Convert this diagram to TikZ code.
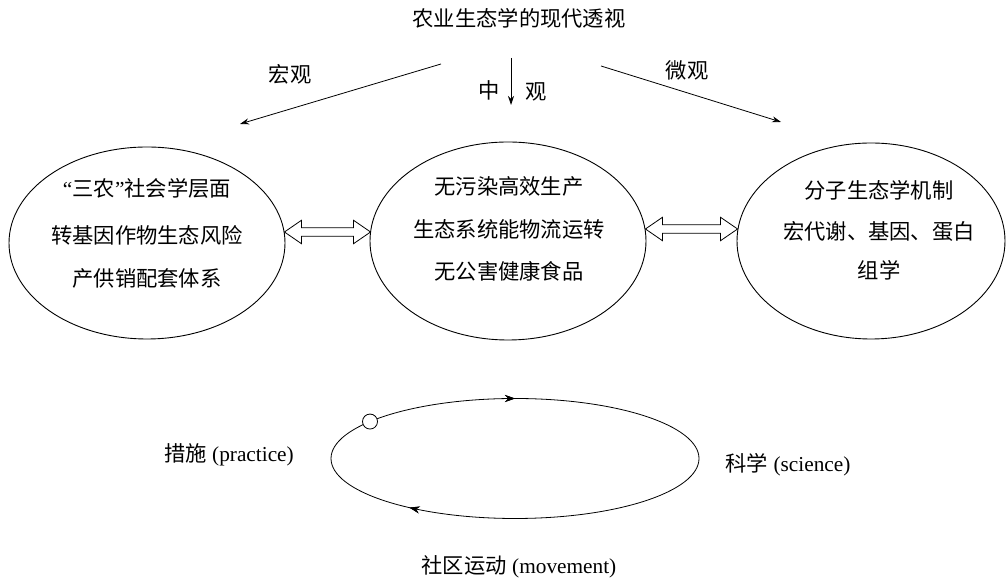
\documentclass[tikz,border=0pt]{standalone}
\usepackage{fontspec}
\setmainfont{Liberation Serif}
\newfontfamily\cjk{Noto Sans CJK SC}
\usetikzlibrary{shapes.geometric,arrows.meta,decorations.markings,calc}
\begin{document}
\begin{tikzpicture}[x=1pt,y=1pt,
  line width=0.8pt,
  txt/.style={font=\fontsize{21.3}{24}\selectfont\cjk, inner sep=0pt},
  lat/.style={font=\fontsize{21.3}{24}\selectfont, inner sep=0pt},
  bubble/.style={ellipse, draw, line width=0.9pt, inner sep=0pt},
  flow/.style={-{Stealth[length=9pt,width=6pt]}},
  cyclemark/.style={decoration={markings,
    mark=at position #1 with {\arrowreversed{Stealth[length=10pt,width=7pt]}}},
    postaction=decorate}
]
\useasboundingbox (0,0) rectangle (1007,580);

% hollow two-headed arrow between two points
\newcommand\twohead[2]{%
  \draw[line width=0.8pt, line join=miter]
    (#1) -- ++(17,11.7) -- ++(0,-7.4) -- ($(#2)+(-17,4.3)$) -- ++(0,7.4)
    -- (#2) -- ++(-17,-11.7) -- ++(0,7.4) -- ($(#1)+(17,-4.3)$) -- ++(0,-7.4) -- cycle;}

% title and the three viewing scales
\node[txt] (title) at (519,562) {农业生态学的现代透视};
\coordinate (sL) at (441,516);
\coordinate (sM) at (511,522);
\coordinate (sR) at (601,514);
\coordinate (eL) at (240,456);
\coordinate (eM) at (511,475);
\coordinate (eR) at (781,458);
\draw[flow] (sL) -- (eL);
\draw[flow] (sM) -- (eM);
\draw[flow] (sR) -- (eR);
\node[txt] (macro) at (290,506) {宏观};
\node[txt] (meso1) at (489,490) {中};
\node[txt] (meso2) at (536,488) {观};
\node[txt] (micro) at (687,510) {微观};

% three levels
\node[bubble, minimum width=276pt, minimum height=192pt] (L) at (147,337) {};
\node[bubble, minimum width=276pt, minimum height=198pt] (M) at (508,339) {};
\node[bubble, minimum width=268pt, minimum height=196pt] (R) at (871,339) {};

\node[lat] (l1) at (147,392) {“{\cjk 三农}”{\cjk 社会学层面}};
\node[txt] (l2) at (147,345) {转基因作物生态风险};
\node[txt] (l3) at (147,302) {产供销配套体系};

\node[txt] (m1) at (509,394) {无污染高效生产};
\node[txt] (m2) at (509,351) {生态系统能物流运转};
\node[txt] (m3) at (509,309) {无公害健康食品};

\node[txt] (r1) at (879,390) {分子生态学机制};
\node[txt] (r2) at (879,349) {宏代谢、基因、蛋白};
\node[txt] (r3) at (879,310) {组学};

% links between levels
\coordinate (LMa) at ($(L.east)+(-1,11)$);
\coordinate (LMb) at ($(M.west)+(1,9)$);
\coordinate (MRa) at ($(M.east)+(-1,12)$);
\coordinate (MRb) at ($(R.west)+(1,12)$);
\twohead{LMa}{LMb}
\twohead{MRa}{MRb}

% practice - science - movement cycle
\coordinate (O) at (515,121.5);
\draw[cyclemark=0.25, cyclemark=0.62]
  (O) ellipse [x radius=184, y radius=60];
\node[circle, draw, fill=white, minimum size=15pt, inner sep=0pt, line width=0.8pt]
  (dot) at ($(O)+(142:184 and 60)$) {};
\node[lat] (prac) at (229,125) {{\cjk 措施} (practice)};
\node[lat] (sci) at (788,115) {{\cjk 科学} (science)};
\node[lat] (mov) at (519,13) {{\cjk 社区运动} (movement)};
\end{tikzpicture}
\end{document}
